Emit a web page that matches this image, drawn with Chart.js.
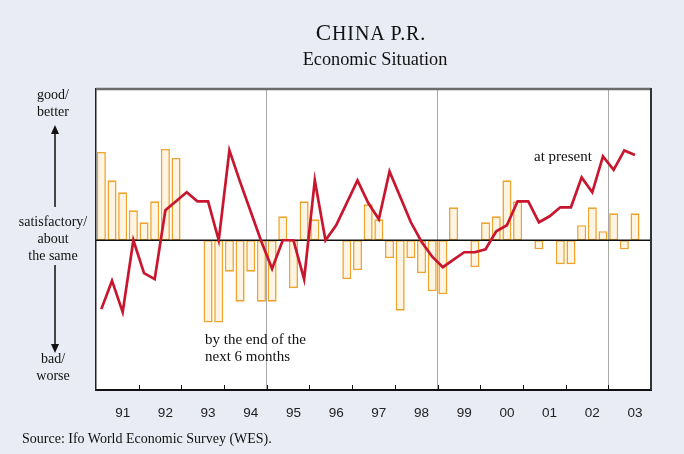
<!DOCTYPE html>
<html>
<head>
<meta charset="utf-8">
<title>China P.R. - Economic Situation</title>
<script src="https://cdn.jsdelivr.net/npm/chart.js@4.4.1/dist/chart.umd.min.js"></script>
<style>
  html, body { margin: 0; padding: 0; background: #e9ebf5; }
  #wrap { position: relative; width: 684px; height: 454px; overflow: hidden;
          font-family: "Liberation Serif", "Times New Roman", serif; color: #111; }
  canvas { position: absolute; left: 0; top: 0; }
  .t { position: absolute; white-space: pre; }
  .c { transform: translateX(-50%); text-align: center; }
</style>
</head>
<body>
<div id="wrap">
  <canvas id="wes" width="684" height="454"></canvas>

  <div class="t c" style="left:371px; top:21px; font-size:20px; line-height:24px; letter-spacing:0.9px;"><span style="font-size:23px">C</span>HINA P.R.</div>
  <div class="t c" style="left:375px; top:48px; font-size:18.3px; line-height:22px;">Economic Situation</div>

  <div class="t c" style="left:53px; top:86px; font-size:14px; line-height:17px;">good/
better</div>
  <div class="t c" style="left:53px; top:213px; font-size:14px; line-height:17px;">satisfactory/
about
the same</div>
  <div class="t c" style="left:53px; top:350px; font-size:14px; line-height:17px;">bad/
worse</div>

  <div class="t" style="left:534px; top:148px; font-size:15px; line-height:17px;">at present</div>
  <div class="t" style="left:205px; top:331px; font-size:15px; line-height:17px;">by the end of the
next 6 months</div>

  <div class="t" style="left:22px; top:430px; font-size:14px; line-height:17px;">Source: Ifo World Economic Survey (WES).</div>
</div>

<script>
const years = ['91', '92', '93', '94', '95', '96', '97', '98', '99', '00', '01', '02', '03'];
const quarters = years.flatMap(y => ['Q1', 'Q2', 'Q3', 'Q4'].map(q => y + ' ' + q));

// expectations for the next 6 months (bars), 91 Q1 .. 03 Q3
const expectations = [
  59, 40, 32, 20,   12, 26, 61, 55,   null, null, -55, -55,   -21, -41, -21, -41,
  -41, 16, -32, 26,   14, null, null, -26,   -20, 24, 14, -12,   -47, -12, -22, -34,
  -36, 22, null, -18,   12, 16, 40, 26,   null, -6, null, -16,   -16, 10, 22, 6,
  18, -6, 18
];

// present situation (line)
const situation = [
  -46, -27, -48, 0,   -22, -26, 20, 26,   32, 26, 26, 0,   60, 39, 19, -1,
  -19, 0, 0, -26,   40, 0, 10, 25,   40, 25, 14, 46,   29, 12, -1, -11,
  -18, -13, -8, -8,   -6, 6, 10, 26,   26, 12, 16, 22,   22, 42, 32, 56,
  47, 60, 57
];

// year boundaries that get a grey guide line
const markedYears = [16, 32, 48];

const frame = {
  id: 'frame',
  beforeDraw(chart) {
    const { ctx, chartArea: a } = chart;
    ctx.save();
    ctx.fillStyle = '#ffffff';
    ctx.fillRect(a.left, a.top, a.right - a.left, a.bottom - a.top);
    ctx.restore();
  },
  beforeDatasetDraw(chart, args) {
    if (args.index !== 1) return;
    // zero line goes over the bars but under the red line
    const { ctx, chartArea: a } = chart;
    const y0 = chart.scales.y.getPixelForValue(0);
    ctx.save();
    ctx.strokeStyle = '#111';
    ctx.lineWidth = 1.5;
    ctx.beginPath();
    ctx.moveTo(a.left, y0);
    ctx.lineTo(a.right, y0);
    ctx.stroke();
    ctx.restore();
  },
  afterDraw(chart) {
    const { ctx, chartArea: a } = chart;
    const xs = chart.scales.x;
    ctx.save();

    // top and right edge of the plot box
    ctx.strokeStyle = '#6c6c6c';
    ctx.lineWidth = 2.5;
    ctx.beginPath();
    ctx.moveTo(a.left, a.top);
    ctx.lineTo(a.right, a.top);
    ctx.stroke();
    ctx.strokeStyle = '#333';
    ctx.lineWidth = 2;
    ctx.beginPath();
    ctx.moveTo(a.right, a.top - 1);
    ctx.lineTo(a.right, a.bottom);
    ctx.stroke();

    // small inward ticks at each year boundary
    ctx.strokeStyle = '#111';
    ctx.lineWidth = 1;
    for (let i = 4; i < quarters.length; i += 4) {
      const x = Math.round(xs.getPixelForValue(i - 0.5)) + 0.5;
      ctx.beginPath();
      ctx.moveTo(x, a.bottom);
      ctx.lineTo(x, a.bottom - 5);
      ctx.stroke();
    }

    // arrows beside the left labels
    ctx.fillStyle = '#111';
    ctx.lineWidth = 1.5;
    ctx.beginPath();
    ctx.moveTo(55, 207);
    ctx.lineTo(55, 132);
    ctx.moveTo(55, 265);
    ctx.lineTo(55, 346);
    ctx.stroke();
    ctx.beginPath();
    ctx.moveTo(55, 125);
    ctx.lineTo(51, 134);
    ctx.lineTo(59, 134);
    ctx.closePath();
    ctx.fill();
    ctx.beginPath();
    ctx.moveTo(55, 353);
    ctx.lineTo(51, 344);
    ctx.lineTo(59, 344);
    ctx.closePath();
    ctx.fill();

    ctx.restore();
  }
};

new Chart(document.getElementById('wes'), {
  type: 'bar',
  data: {
    labels: quarters,
    datasets: [
      {
        type: 'bar',
        label: 'next 6 months',
        data: expectations,
        backgroundColor: '#fdf4e3',
        borderColor: '#f0a42e',
        borderWidth: 1.6,
        borderSkipped: false,
        categoryPercentage: 1,
        barPercentage: 0.85,
        order: 2
      },
      {
        type: 'line',
        label: 'at present',
        data: situation,
        borderColor: '#c8162f',
        borderWidth: 2.7,
        pointRadius: 0,
        tension: 0,
        fill: false,
        order: 1
      }
    ]
  },
  options: {
    responsive: false,
    animation: false,
    layout: { padding: { left: 96, top: 89, right: 33, bottom: 24 } },
    plugins: { legend: { display: false }, tooltip: { enabled: false } },
    scales: {
      x: {
        offset: true,
        grid: {
          offset: true,
          drawTicks: false,
          color: c => markedYears.includes(c.index) ? '#a8a8a8' : 'rgba(0,0,0,0)',
          lineWidth: 1
        },
        border: { display: true, color: '#111', width: 2 },
        ticks: {
          autoSkip: false,
          maxRotation: 0,
          padding: 15,
          color: '#222',
          font: { family: 'Liberation Sans', size: 13.5 },
          callback: (v, i) => i % 4 === 2 ? years[Math.floor(i / 4)] : ''
        },
        afterFit: s => { s.height = 40; }
      },
      y: {
        min: -100,
        max: 101,
        grid: { display: false },
        border: { display: true, color: '#222', width: 1.5 },
        ticks: { display: false },
        afterFit: s => { s.width = 0; }
      }
    }
  },
  plugins: [frame]
});
</script>
</body>
</html>
